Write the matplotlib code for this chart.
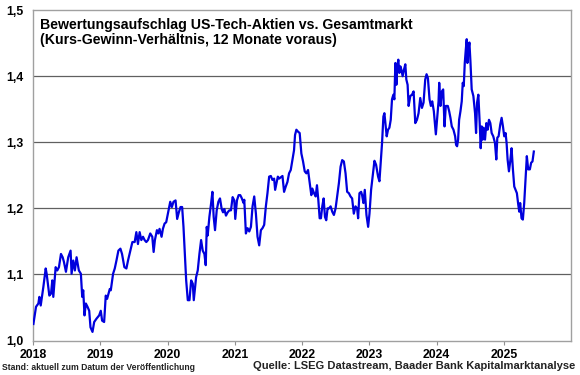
import matplotlib
matplotlib.use("Agg")
import matplotlib.pyplot as plt

# decimal years and valuation premium (P/E ratio US tech vs. total market)
years = [
    2018.005, 2018.044, 2018.079, 2018.094, 2018.114, 2018.128, 2018.153, 2018.188, 2018.202, 2018.242,
    2018.267, 2018.286, 2018.301, 2018.336, 2018.360, 2018.385, 2018.415, 2018.440, 2018.459, 2018.489,
    2018.523, 2018.558, 2018.573, 2018.598, 2018.622, 2018.647, 2018.681, 2018.711, 2018.731, 2018.746,
    2018.765, 2018.785, 2018.810, 2018.835, 2018.854, 2018.884, 2018.909, 2018.943, 2018.983, 2019.007,
    2019.027, 2019.057, 2019.081, 2019.101, 2019.141, 2019.156, 2019.190, 2019.215, 2019.240, 2019.269,
    2019.299, 2019.323, 2019.358, 2019.388, 2019.412, 2019.447, 2019.477, 2019.511, 2019.536, 2019.560,
    2019.585, 2019.610, 2019.635, 2019.659, 2019.684, 2019.709, 2019.743, 2019.773, 2019.793, 2019.812,
    2019.842, 2019.862, 2019.881, 2019.911, 2019.931, 2019.956, 2019.980, 2020.005, 2020.040, 2020.064,
    2020.089, 2020.119, 2020.143, 2020.168, 2020.193, 2020.217, 2020.237, 2020.257, 2020.277, 2020.301,
    2020.326, 2020.351, 2020.375, 2020.390, 2020.425, 2020.449, 2020.474, 2020.499, 2020.523, 2020.548,
    2020.568, 2020.583, 2020.597, 2020.622, 2020.647, 2020.667, 2020.686, 2020.706, 2020.731, 2020.756,
    2020.780, 2020.805, 2020.825, 2020.844, 2020.869, 2020.894, 2020.919, 2020.943, 2020.968, 2020.993,
    2021.007, 2021.032, 2021.057, 2021.081, 2021.101, 2021.131, 2021.141, 2021.165, 2021.190, 2021.215,
    2021.240, 2021.264, 2021.289, 2021.314, 2021.338, 2021.363, 2021.388, 2021.412, 2021.437, 2021.462,
    2021.486, 2021.511, 2021.536, 2021.560, 2021.585, 2021.600, 2021.620, 2021.640, 2021.659, 2021.684,
    2021.709, 2021.733, 2021.758, 2021.783, 2021.807, 2021.832, 2021.857, 2021.881, 2021.896, 2021.916,
    2021.941, 2021.965, 2021.990, 2022.015, 2022.040, 2022.064, 2022.089, 2022.114, 2022.138, 2022.153,
    2022.178, 2022.203, 2022.222, 2022.242, 2022.262, 2022.281, 2022.301, 2022.321, 2022.341, 2022.360,
    2022.380, 2022.400, 2022.425, 2022.449, 2022.474, 2022.499, 2022.523, 2022.548, 2022.573, 2022.597,
    2022.622, 2022.647, 2022.671, 2022.696, 2022.721, 2022.745, 2022.770, 2022.795, 2022.819, 2022.834,
    2022.854, 2022.879, 2022.893, 2022.913, 2022.933, 2022.958, 2022.983, 2023.003, 2023.027, 2023.052,
    2023.077, 2023.101, 2023.131, 2023.151, 2023.170, 2023.190, 2023.210, 2023.225, 2023.240, 2023.259,
    2023.279, 2023.299, 2023.319, 2023.338, 2023.358, 2023.373, 2023.388, 2023.403, 2023.417, 2023.432,
    2023.447, 2023.462, 2023.477, 2023.496, 2023.516, 2023.536, 2023.551, 2023.570, 2023.585, 2023.610,
    2023.635, 2023.659, 2023.684, 2023.709, 2023.733, 2023.758, 2023.783, 2023.807, 2023.832, 2023.852,
    2023.872, 2023.896, 2023.916, 2023.936, 2023.960, 2023.990, 2024.010, 2024.030, 2024.040, 2024.059,
    2024.079, 2024.099, 2024.119, 2024.138, 2024.168, 2024.188, 2024.207, 2024.227, 2024.252, 2024.277,
    2024.291, 2024.306, 2024.321, 2024.336, 2024.356, 2024.375, 2024.390, 2024.405, 2024.420, 2024.435,
    2024.449, 2024.459, 2024.474, 2024.489, 2024.504, 2024.523, 2024.548, 2024.573, 2024.588, 2024.603,
    2024.622, 2024.642, 2024.657, 2024.672, 2024.686, 2024.701, 2024.721, 2024.741, 2024.760, 2024.780,
    2024.800, 2024.820, 2024.844, 2024.869, 2024.889, 2024.904, 2024.923, 2024.948, 2024.968, 2024.988,
    2025.007, 2025.027, 2025.042, 2025.057, 2025.077, 2025.096, 2025.116, 2025.136, 2025.156, 2025.175,
    2025.195, 2025.215, 2025.230, 2025.244, 2025.264, 2025.284, 2025.304, 2025.323, 2025.343, 2025.363,
    2025.388, 2025.407, 2025.427, 2025.447,
]
premium = [
    1.025, 1.051, 1.056, 1.066, 1.053, 1.063, 1.081, 1.109, 1.101, 1.068,
    1.071, 1.091, 1.066, 1.111, 1.106, 1.111, 1.131, 1.126, 1.119, 1.104,
    1.126, 1.136, 1.101, 1.121, 1.106, 1.126, 1.106, 1.101, 1.066, 1.076,
    1.038, 1.056, 1.051, 1.045, 1.020, 1.013, 1.028, 1.033, 1.038, 1.045,
    1.030, 1.028, 1.068, 1.063, 1.078, 1.076, 1.101, 1.109, 1.121, 1.136,
    1.139, 1.131, 1.111, 1.109, 1.121, 1.136, 1.149, 1.149, 1.164, 1.146,
    1.164, 1.152, 1.157, 1.152, 1.149, 1.152, 1.162, 1.157, 1.134, 1.152,
    1.167, 1.162, 1.169, 1.157, 1.169, 1.177, 1.179, 1.192, 1.210, 1.202,
    1.210, 1.212, 1.184, 1.194, 1.202, 1.202, 1.172, 1.131, 1.091, 1.061,
    1.061, 1.091, 1.086, 1.061, 1.096, 1.106, 1.131, 1.152, 1.136, 1.131,
    1.114, 1.172, 1.159, 1.187, 1.207, 1.225, 1.187, 1.167, 1.197, 1.210,
    1.215, 1.199, 1.194, 1.199, 1.189, 1.194, 1.197, 1.197, 1.217, 1.212,
    1.184, 1.212, 1.220, 1.220, 1.216, 1.208, 1.213, 1.162, 1.170, 1.165,
    1.172, 1.203, 1.218, 1.192, 1.157, 1.144, 1.167, 1.170, 1.175, 1.203,
    1.223, 1.248, 1.249, 1.243, 1.245, 1.228, 1.238, 1.248, 1.245, 1.247,
    1.249, 1.225, 1.233, 1.240, 1.253, 1.258, 1.273, 1.288, 1.311, 1.319,
    1.316, 1.314, 1.283, 1.271, 1.256, 1.253, 1.258, 1.238, 1.220, 1.230,
    1.223, 1.218, 1.235, 1.213, 1.185, 1.185, 1.203, 1.215, 1.187, 1.182,
    1.200, 1.200, 1.203, 1.195, 1.190, 1.200, 1.218, 1.238, 1.263, 1.273,
    1.271, 1.253, 1.225, 1.223, 1.218, 1.215, 1.192, 1.203, 1.200, 1.185,
    1.223, 1.225, 1.220, 1.208, 1.228, 1.190, 1.172, 1.192, 1.228, 1.250,
    1.272, 1.266, 1.248, 1.241, 1.269, 1.299, 1.339, 1.344, 1.329, 1.309,
    1.319, 1.322, 1.334, 1.365, 1.372, 1.365, 1.420, 1.387, 1.415, 1.425,
    1.405, 1.415, 1.410, 1.400, 1.410, 1.418, 1.395, 1.387, 1.355, 1.370,
    1.372, 1.377, 1.329, 1.334, 1.344, 1.367, 1.352, 1.360, 1.395, 1.403,
    1.397, 1.365, 1.355, 1.362, 1.347, 1.312, 1.337, 1.362, 1.390, 1.355,
    1.377, 1.380, 1.324, 1.355, 1.355, 1.347, 1.337, 1.324, 1.319, 1.309,
    1.296, 1.294, 1.304, 1.334, 1.347, 1.362, 1.390, 1.385, 1.420, 1.440,
    1.456, 1.420, 1.440, 1.451, 1.423, 1.380, 1.370, 1.344, 1.314, 1.360,
    1.372, 1.329, 1.291, 1.324, 1.304, 1.322, 1.304, 1.329, 1.319, 1.334,
    1.329, 1.314, 1.309, 1.299, 1.274, 1.307, 1.309, 1.327, 1.337, 1.324,
    1.309, 1.314, 1.299, 1.274, 1.256, 1.271, 1.291, 1.259, 1.233, 1.228,
    1.223, 1.206, 1.195, 1.208, 1.185, 1.183, 1.208, 1.243, 1.279, 1.259,
    1.259, 1.269, 1.271, 1.286,
]
year_ticks = [2018, 2019, 2020, 2021, 2022, 2023, 2024, 2025]
value_ticks = [1.0, 1.1, 1.2, 1.3, 1.4, 1.5]

plt.rcParams['font.family'] = ['Liberation Sans', 'DejaVu Sans']

fig = plt.figure(figsize=(5.8, 3.75), dpi=100)
ax = fig.add_axes([0.057, 0.092, 0.9275, 0.881])

ax.plot(years, premium, color='#0000dd', linewidth=1.6, zorder=3)

ax.set_xlim(2018, 2026)
ax.set_ylim(1.0, 1.5)
ax.set_xticks(year_ticks)
ax.set_xticklabels([str(y) for y in year_ticks], fontweight='bold', fontsize=8.8)
ax.set_yticks(value_ticks)
ax.set_yticklabels([f"{v:.1f}".replace('.', ',') for v in value_ticks],
                   fontweight='bold', fontsize=8.8)
ax.tick_params(axis='y', length=0, pad=7)
ax.tick_params(axis='x', length=3, direction='out', color='#909090', pad=3)

# horizontal grid lines
for v in value_ticks[1:-1]:
    ax.axhline(v, color='#606060', linewidth=0.9, zorder=1)
for s in ax.spines.values():
    s.set_color('#a0a0a0')
    s.set_linewidth(1.0)

ax.text(0.012, 0.975, "Bewertungsaufschlag US-Tech-Aktien vs. Gesamtmarkt\n"
        "(Kurs-Gewinn-Verhältnis, 12 Monate voraus)",
        transform=ax.transAxes, ha='left', va='top', fontsize=10.2,
        fontweight='bold', linespacing=1.1)

fig.text(0.004, 0.013, "Stand: aktuell zum Datum der Veröffentlichung",
         ha='left', va='baseline', fontsize=6.2, fontweight='bold', color='#222222')
fig.text(0.992, 0.016, "Quelle: LSEG Datastream, Baader Bank Kapitalmarktanalyse",
         ha='right', va='baseline', fontsize=8.0, fontweight='bold', color='#222222')

fig.savefig('out.png', dpi=100)
